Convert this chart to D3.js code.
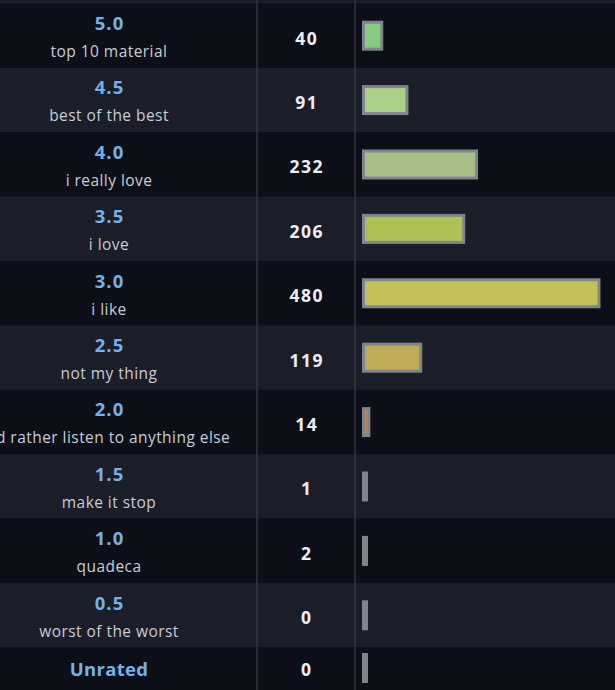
<!DOCTYPE html>
<html>
<head>
<meta charset="utf-8">
<script src="https://cdn.jsdelivr.net/npm/d3@7"></script>
<style>
  body { margin: 0; background: #0c0f18; overflow: hidden; }
  svg { display: block; }
</style>
</head>
<body>
<div id="chart"></div>
<script>
// ratings, top to bottom
var ratings = ["5.0", "4.5", "4.0", "3.5", "3.0", "2.5", "2.0", "1.5", "1.0", "0.5", "Unrated"];
var descriptions = ["top 10 material", "best of the best", "i really love", "i love", "i like",
  "not my thing", "i'd rather listen to anything else", "make it stop", "quadeca", "worst of the worst", ""];
var counts = [40, 91, 232, 206, 480, 119, 14, 1, 2, 0, 0];
var barColors = ["#86cc80", "#acd08a", "#a9bd89", "#adbf55", "#c2c056", "#bfaa55",
  "#c8883a", "#9a9ea6", "#9a9ea6", "#b06464", "#9a9ea6"];

var largeur = 615, hauteur = 690;
var hautLigne = 64.4, haut0 = 3.5;
var colNote = 109, colNb = 306, sep1 = 257, sep2 = 355, debutBarre = 363.5;
var police = "'Open Sans', sans-serif";

var svg = d3.select("#chart").append("svg").attr("width", largeur).attr("height", hauteur);

var y = d3.scaleBand().domain(ratings).range([haut0, haut0 + hautLigne * ratings.length]).padding(0);
var x = d3.scaleLinear().domain([0, 480]).range([0, 237]);

// partial row above the first one
svg.append("rect").attr("x", 0).attr("y", haut0 - hautLigne).attr("width", largeur).attr("height", hautLigne).attr("fill", "#1b1d28");

var lignes = svg.selectAll("g.ligne").data(ratings).enter().append("g")
  .attr("class", "ligne")
  .attr("transform", function(d) { return "translate(0," + y(d) + ")"; });

lignes.append("rect")
  .attr("width", largeur).attr("height", y.bandwidth())
  .attr("fill", function(d, i) { return i % 2 ? "#1b1d28" : "#0c0f18"; });

// dividers
[sep1, sep2].forEach(function(sx) {
  svg.append("line").attr("x1", sx).attr("x2", sx).attr("y1", 0).attr("y2", hauteur)
    .attr("stroke", "#323641").attr("stroke-width", 1.5);
});

// letter-spacing widens the glyphs a bit, the original font is broader
lignes.append("text")
  .attr("x", function(d) { return d == "Unrated" ? colNote : colNote + 0.5; })
  .attr("y", function(d) { return d == "Unrated" ? 28.5 : 26.5; })
  .attr("text-anchor", "middle")
  .attr("font-family", police).attr("font-weight", "bold").attr("font-size", 18.5)
  .attr("letter-spacing", function(d) { return d == "Unrated" ? 0.3 : 1; })
  .attr("fill", "#72b2e8")
  .text(function(d) { return d; });

lignes.append("text")
  .attr("x", colNote).attr("y", 53.5)
  .attr("text-anchor", "middle")
  .attr("font-family", police).attr("font-size", 15.5)
  .attr("letter-spacing", 0.45)
  .attr("fill", "#c9ccd4")
  .text(function(d, i) { return descriptions[i]; });

lignes.append("text")
  .attr("x", colNb + 0.7)
  .attr("y", function(d) { return d == "Unrated" ? 28.5 : 41; })
  .attr("text-anchor", "middle")
  .attr("font-family", police).attr("font-weight", "bold").attr("font-size", 17.5)
  .attr("letter-spacing", 1.4)
  .attr("fill", "#eceef2")
  .text(function(d, i) { return counts[i]; });

lignes.append("rect")
  .attr("x", debutBarre)
  .attr("y", function(d) { return d == "Unrated" ? 7 : 18.7; })
  .attr("width", function(d, i) { return Math.max(3, x(counts[i]) - 1.5); })
  .attr("height", 27)
  .attr("fill", function(d, i) { return barColors[i]; })
  .attr("stroke", "#80848c").attr("stroke-width", 3);
</script>
</body>
</html>
